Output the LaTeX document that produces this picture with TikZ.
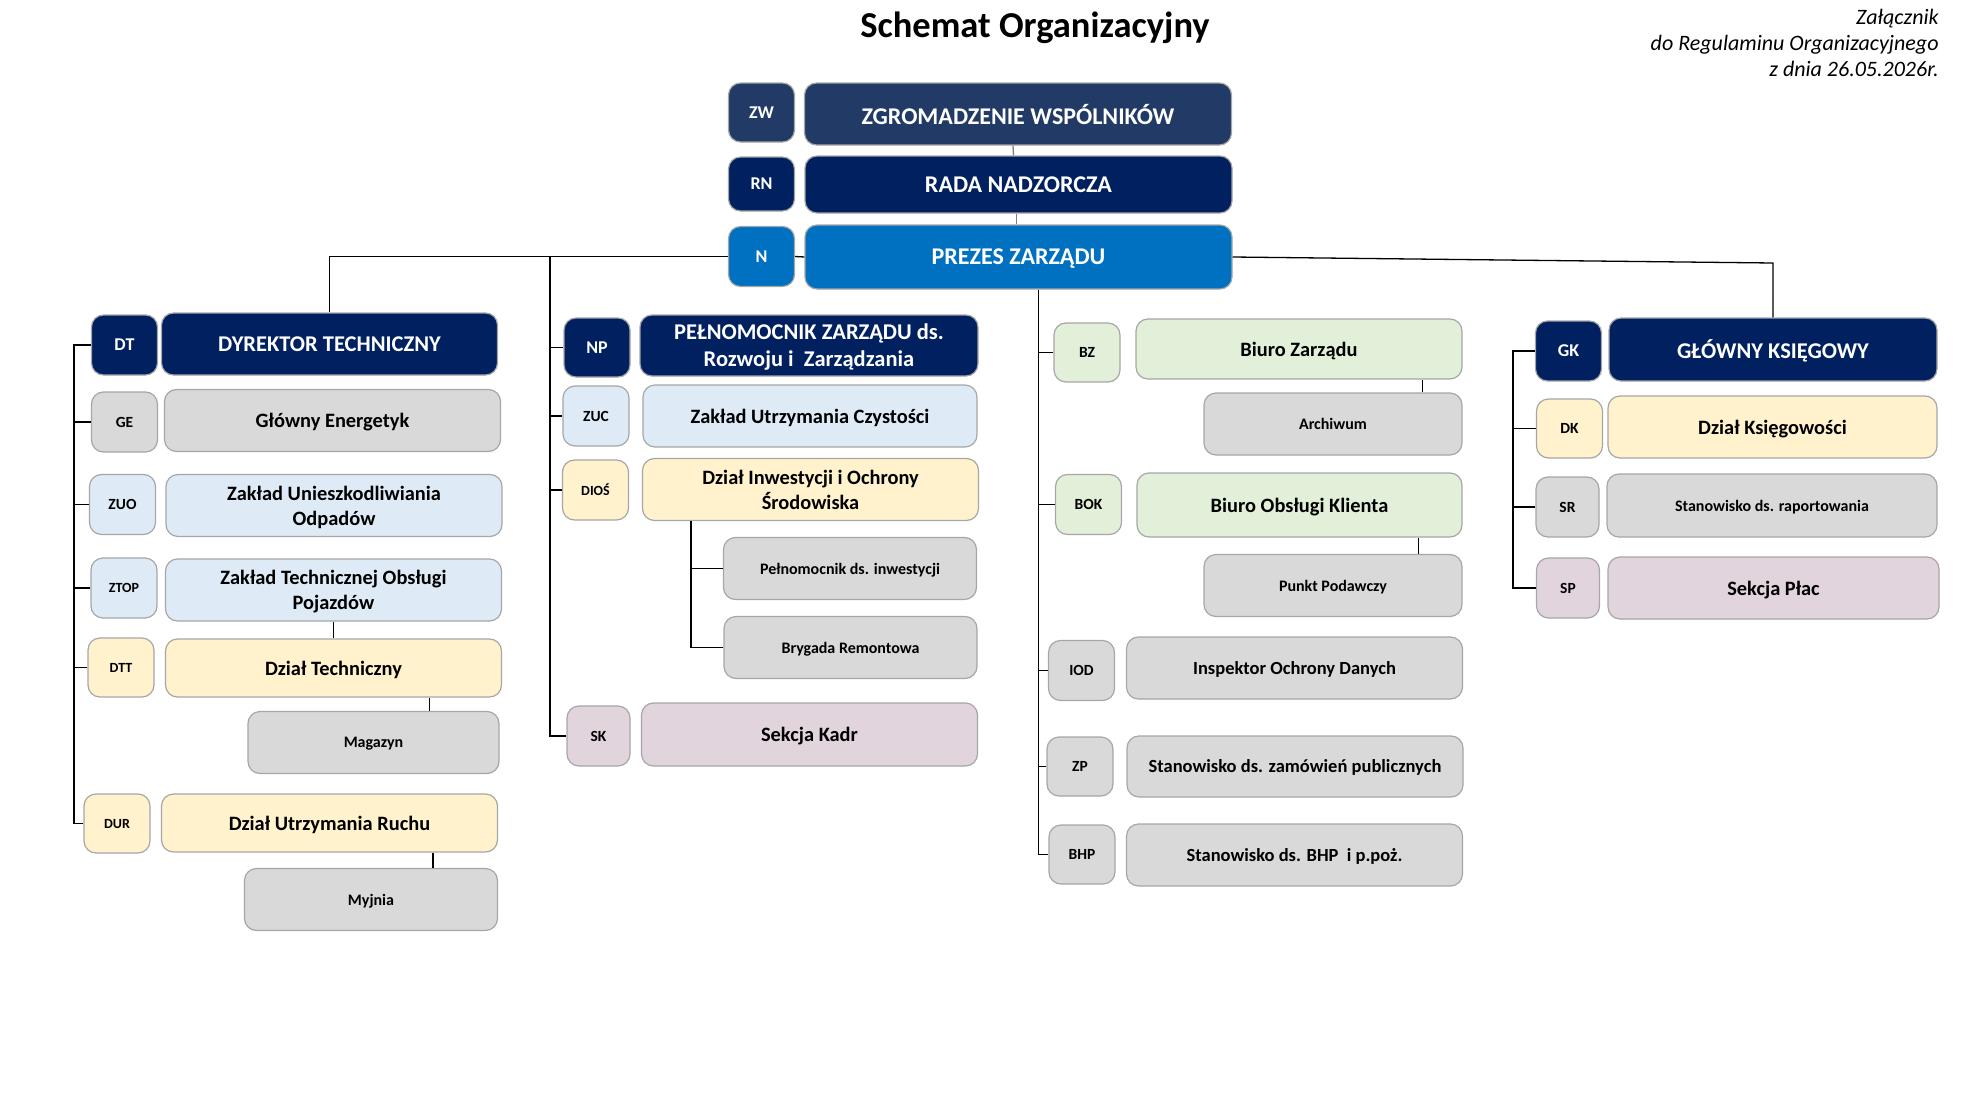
\documentclass[tikz,border=0pt]{standalone}
\usepackage{fontspec}
\setmainfont{Carlito}
\definecolor{zwblue}{HTML}{213A66}
\definecolor{navy}{HTML}{002060}
\definecolor{azure}{HTML}{0070C0}
\definecolor{cgray}{HTML}{D9D9D9}
\definecolor{csky}{HTML}{DEEBF7}
\definecolor{ccream}{HTML}{FFF2CC}
\definecolor{cmint}{HTML}{E2F0D9}
\definecolor{cmauve}{HTML}{E1D4DC}
\definecolor{rim}{HTML}{A6A6A6}
\begin{document}
\begin{tikzpicture}[x=.5pt, y=-.5pt,
    box/.style={draw=rim, line width=.6pt, rounded corners=6pt, align=center, inner sep=1pt, text depth=0pt, text=black},
    abbr/.style={box, minimum width=33pt, minimum height=30pt, font=\bfseries\fontsize{7.75}{9}\selectfont},
    tinyabbr/.style={abbr, font=\bfseries\fontsize{7}{9}\selectfont},
    bossabbr/.style={abbr, fill=navy, text=white, font=\bfseries\fontsize{9}{11}\selectfont},
    unit/.style={box, minimum width=168pt, minimum height=31pt, font=\bfseries\fontsize{10.2}{12.5}\selectfont},
    post/.style={unit, fill=cgray, font=\bfseries\fontsize{9.25}{11}\selectfont},
    boss/.style={unit, fill=navy, text=white, font=\bfseries\fontsize{11.25}{13.5}\selectfont},
    top/.style={box, text=white, minimum width=213.5pt, minimum height=31pt, font=\bfseries\fontsize{12}{14}\selectfont},
    sub/.style={box, fill=cgray, minimum width=126.5pt, minimum height=31pt, font=\bfseries\fontsize{8}{10}\selectfont},
    link/.style={line width=.65pt, black}]
\useasboundingbox (0,0) rectangle (1972,1108);

% naglowek
\node[anchor=base, font=\bfseries\fontsize{18.25}{22}\selectfont] (title) at (1035,38) {Schemat Organizacyjny};
\node[anchor=north east, align=right, inner sep=0pt, font=\itshape\fontsize{11}{13}\selectfont] (annex) at (1939,9) {Załącznik\\do Regulaminu Organizacyjnego\\z dnia 26.05.2026r.};

% wladze
\node[bossabbr, fill=zwblue, minimum height=29.5pt] (zw) at (761.5,112.5) {ZW};
\node[top, fill=zwblue] (zgw) at (1018,114) {ZGROMADZENIE WSPÓLNIKÓW};
\node[bossabbr, minimum height=27pt] (rn) at (761.5,184) {RN};
\node[top, fill=navy, minimum height=28.5pt] (rada) at (1018.5,184.5) {RADA NADZORCZA};
\node[bossabbr, fill=azure] (n) at (761.5,256.5) {N};
\node[top, fill=azure, minimum height=32pt] (prezes) at (1018.5,257) {PREZES ZARZĄDU};

% pion techniczny
\node[bossabbr] (dt) at (124.5,345) {DT};
\node[boss, minimum height=31pt] (dyr) at (329.5,344) {DYREKTOR TECHNICZNY};
\node[abbr, fill=cgray] (ge) at (124.5,422) {GE};
\node[unit, fill=cgray] (gen) at (332.5,420.5) {Główny Energetyk};
\node[abbr, fill=csky] (zuo) at (122.5,504.5) {ZUO};
\node[unit, fill=csky] (zuon) at (334,505.5) {Zakład Unieszkodliwiania\\Odpadów};
\node[tinyabbr, fill=csky] (ztop) at (124,588) {ZTOP};
\node[unit, fill=csky] (ztopn) at (333.5,590) {Zakład Technicznej Obsługi\\Pojazdów};
\node[tinyabbr, fill=ccream, minimum height=29.5pt] (dtt) at (121,667.5) {DTT};
\node[unit, fill=ccream, minimum height=29pt] (dttn) at (333.5,668) {Dział Techniczny};
\node[sub, minimum width=125.5pt] (mag) at (373.5,742.5) {Magazyn};
\node[tinyabbr, fill=ccream, minimum height=29.5pt] (dur) at (117,823.5) {DUR};
\node[unit, fill=ccream, minimum height=29pt] (durn) at (329.5,823) {Dział Utrzymania Ruchu};
\node[sub] (myj) at (371,899.5) {Myjnia};

% pelnomocnik
\node[bossabbr, minimum height=29.5pt] (np) at (597,347.5) {NP};
\node[boss, minimum width=169pt, minimum height=30.5pt] (npn) at (809,345.5) {PEŁNOMOCNIK ZARZĄDU ds.\\Rozwoju i~ Zarządzania};
\node[abbr, fill=csky] (zuc) at (596,416) {ZUC};
\node[unit, fill=csky, minimum width=167pt] (zucn) at (810,416) {Zakład Utrzymania Czystości};
\node[tinyabbr, fill=ccream] (dios) at (595.5,490) {DIOŚ};
\node[unit, fill=ccream] (diosn) at (810.5,489.5) {Dział Inwestycji i Ochrony\\Środowiska};
\node[sub] (pinw) at (850,568.5) {Pełnomocnik ds. inwestycji};
\node[sub] (bryg) at (850.5,647.5) {Brygada Remontowa};
\node[abbr, fill=cmauve, minimum width=31.5pt] (sk) at (598.5,736) {SK};
\node[unit, fill=cmauve, minimum height=31.5pt] (skn) at (809.5,734.5) {Sekcja Kadr};

% komorki przy prezesie
\node[abbr, fill=cmint, minimum height=29.5pt] (bz) at (1087,352.5) {BZ};
\node[unit, fill=cmint, minimum width=163pt, minimum height=30pt] (bzn) at (1299,349) {Biuro Zarządu};
\node[sub, minimum width=129pt] (arch) at (1333,424) {Archiwum};
\node[abbr, fill=cmint] (bok) at (1088.5,504.5) {BOK};
\node[unit, fill=cmint, minimum width=162.5pt, minimum height=32pt] (bokn) at (1299.5,505) {Biuro Obsługi Klienta};
\node[sub, minimum width=129pt] (punkt) at (1333,585.5) {Punkt Podawczy};
\node[abbr, fill=cgray] (iod) at (1081.5,670.5) {IOD};
\node[post] (iodn) at (1294.5,668) {Inspektor Ochrony Danych};
\node[abbr, fill=cgray, minimum height=29.5pt] (zp) at (1080,766.5) {ZP};
\node[post, minimum height=30.5pt] (zpn) at (1295,766.5) {Stanowisko ds. zamówień publicznych};
\node[abbr, fill=cgray, minimum height=29.5pt] (bhp) at (1082,854.5) {BHP};
\node[post] (bhpn) at (1294.5,855) {Stanowisko ds. BHP~ i p.poż.};

% ksiegowosc
\node[bossabbr] (gk) at (1568.5,351) {GK};
\node[boss, minimum width=164pt, minimum height=31.5pt] (glk) at (1773,349.5) {GŁÓWNY KSIĘGOWY};
\node[abbr, fill=ccream, minimum height=29.5pt] (dk) at (1569.5,428.5) {DK};
\node[unit, fill=ccream, minimum width=164.5pt] (dkn) at (1772.5,427) {Dział Księgowości};
\node[abbr, fill=cgray, minimum width=31.5pt] (sr) at (1567.5,507) {SR};
\node[sub, minimum width=165pt, minimum height=31.5pt] (srn) at (1772,505.5) {Stanowisko ds. raportowania};
\node[abbr, fill=cmauve, minimum width=31.5pt] (sp) at (1568,588) {SP};
\node[unit, fill=cmauve, minimum width=165.5pt] (spn) at (1773.5,588) {Sekcja Płac};

% polaczenia
\draw[link, gray] ([xshift=-2.5pt]zgw.south) -- ([xshift=-2.5pt]rada.north);
\draw[link, gray] ([xshift=-1pt]rada.south) -- ([xshift=-1pt]prezes.north);
\draw[link] (prezes.west) -- (n.east);
\draw[link] (n.west) -- (dyr.north |- n.west) -- (dyr.north);
\coordinate (g1) at (glk.north |- prezes.east);
\draw[link] (prezes.east) -- ([yshift=-3pt]g1) -- (glk.north);

\path (dt.west) ++(-17,0) coordinate (busD);
\draw[link] (dt.west) -- (busD) |- (dur.west);
\foreach \u in {ge,zuo,ztop,dtt}
    \draw[link] (\u.west) -- (busD |- \u.west);
\draw[link] (ztopn) -- (dttn);
\coordinate (m1) at ([xshift=-35pt]mag.north east);
\draw[link] (m1) -- (m1 |- dttn.south);
\coordinate (m2) at ([xshift=-32.5pt]myj.north east);
\draw[link] (m2) -- (m2 |- durn.south);

\path (n.west) ++(-178,0) coordinate (busN);
\draw[link] (busN) |- (sk.west);
\foreach \u in {np,zuc,dios}
    \draw[link] (\u.west) -- (busN |- \u.west);
\path (diosn.south west) ++(49,0) coordinate (busI);
\draw[link] (busI) |- (bryg.west);
\draw[link] (pinw.west) -- (busI |- pinw.west);

\path (prezes.south west) ++(234,0) coordinate (busP);
\draw[link] (busP) |- (bhp.west);
\foreach \u in {bz,bok,iod,zp}
    \draw[link] (\u.west) -- (busP |- \u.west);
\coordinate (a1) at ([xshift=-20pt]arch.north east);
\draw[link] (a1) -- (a1 |- bzn.south);
\coordinate (a2) at ([xshift=-22pt]punkt.north east);
\draw[link] (a2) -- (a2 |- bokn.south);

\path (gk.west) ++(-22,0) coordinate (busK);
\draw[link] (gk.west) -- (busK) |- (sp.west);
\foreach \u in {dk,sr}
    \draw[link] (\u.west) -- (busK |- \u.west);
\end{tikzpicture}
\end{document}
